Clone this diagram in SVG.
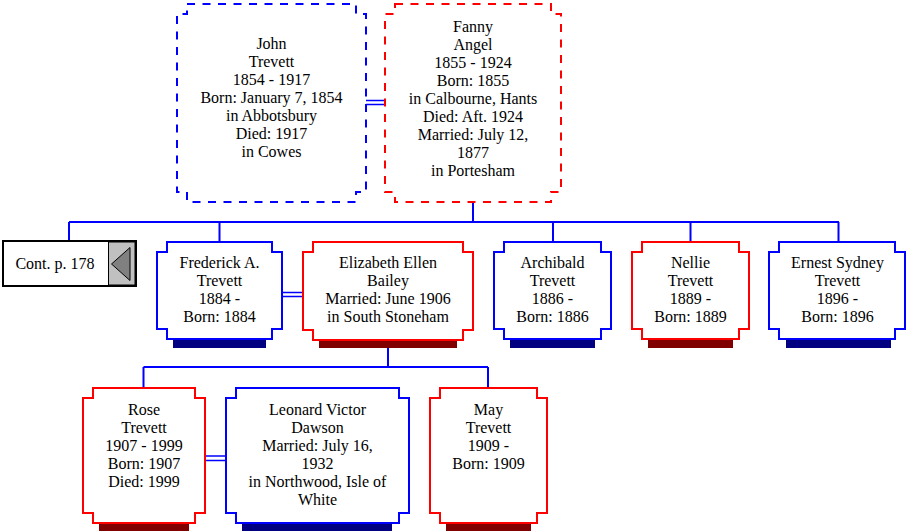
<svg xmlns="http://www.w3.org/2000/svg" width="906" height="532" viewBox="0 0 906 532">
<style>
text{font-family:"Liberation Serif","Times New Roman",serif;font-size:16px;fill:#000;text-anchor:middle}
.m{fill:#fff;stroke-width:2}
.b{stroke:#0000ff}
.r{stroke:#ff0000}
.d{stroke-dasharray:8 7.5}
.sb{fill:#000080}
.sr{fill:#800000}
.c{stroke:#0000ff;stroke-width:2;fill:none}
.c2{stroke:#0000ff;stroke-width:1.5;fill:none}
</style>
<rect width="906" height="532" fill="#fff"/>
<g id="connectors">
<path class="c2" d="M366 100.5H385M366 104.5H385"/>
<path class="c" d="M473 202V222M69 222H839M69 222V241M219.5 222V242M553 222V242M690.5 222V242M838.5 222V242"/>
<path class="c2" d="M282 292.5H303M282 296.5H303"/>
<path class="c" d="M388 340V367M143.5 367H488M143.5 367V388M488 367V388"/>
<path class="c2" d="M205 456H226M205 460.5H226"/>
</g>
<g id="john">
<path class="m b d" d="M187 4H356V14H366V192H356V202H187V192H177V14H187Z"/>
<text x="271.5" y="49">John</text><text x="271.5" y="67">Trevett</text><text x="271.5" y="85">1854 - 1917</text><text x="271.5" y="103">Born: January 7, 1854</text><text x="271.5" y="121">in Abbotsbury</text><text x="271.5" y="139">Died: 1917</text><text x="271.5" y="157">in Cowes</text>
</g>
<g id="fanny">
<path class="m r d" d="M395 4H551V14H561V192H551V202H395V192H385V14H395Z"/>
<text x="473" y="32">Fanny</text><text x="473" y="50">Angel</text><text x="473" y="68">1855 - 1924</text><text x="473" y="86">Born: 1855</text><text x="473" y="104">in Calbourne, Hants</text><text x="473" y="122">Died: Aft. 1924</text><text x="473" y="140">Married: July 12,</text><text x="473" y="158">1877</text><text x="473" y="176">in Portesham</text>
</g>
<g id="cont">
<rect x="3" y="241" width="133" height="45" fill="#fff" stroke="#000" stroke-width="2"/>
<rect x="108.5" y="242" width="26.5" height="43" fill="#c0c0c0" stroke="#000" stroke-width="1"/>
<polygon points="111.5,264 130,247.5 130,280.5" fill="#808080" stroke="#000" stroke-width="1"/>
<text x="55" y="269">Cont. p. 178</text>
</g>
<g id="frederick">
<rect class="sb" x="173" y="340" width="93" height="8"/>
<path class="m b" d="M167 242H272V252H282V329H272V339H167V329H157V252H167Z"/>
<text x="219.5" y="268">Frederick A.</text><text x="219.5" y="286">Trevett</text><text x="219.5" y="304">1884 -</text><text x="219.5" y="322">Born: 1884</text>
</g>
<g id="elizabeth">
<rect class="sr" x="319" y="340" width="138" height="8"/>
<path class="m r" d="M313 242H463V252H473V330H463V340H313V330H303V252H313Z"/>
<text x="388" y="268">Elizabeth Ellen</text><text x="388" y="286">Bailey</text><text x="388" y="304">Married: June 1906</text><text x="388" y="322">in South Stoneham</text>
</g>
<g id="archibald">
<rect class="sb" x="510" y="340" width="85" height="8"/>
<path class="m b" d="M504 242H601V252H611V329H601V339H504V329H494V252H504Z"/>
<text x="552.5" y="268">Archibald</text><text x="552.5" y="286">Trevett</text><text x="552.5" y="304">1886 -</text><text x="552.5" y="322">Born: 1886</text>
</g>
<g id="nellie">
<rect class="sr" x="648" y="340" width="85" height="8"/>
<path class="m r" d="M642 242H739V252H749V329H739V339H642V329H632V252H642Z"/>
<text x="690.5" y="268">Nellie</text><text x="690.5" y="286">Trevett</text><text x="690.5" y="304">1889 -</text><text x="690.5" y="322">Born: 1889</text>
</g>
<g id="ernest">
<rect class="sb" x="786" y="340" width="105" height="8"/>
<path class="m b" d="M779 242H895V252H905V329H895V339H779V329H769V252H779Z"/>
<text x="837.5" y="268">Ernest Sydney</text><text x="837.5" y="286">Trevett</text><text x="837.5" y="304">1896 -</text><text x="837.5" y="322">Born: 1896</text>
</g>
<g id="rose">
<rect class="sr" x="99" y="523" width="90" height="8"/>
<path class="m r" d="M93 388H195V398H205V513H195V523H93V513H83V398H93Z"/>
<text x="144" y="415">Rose</text><text x="144" y="433">Trevett</text><text x="144" y="451">1907 - 1999</text><text x="144" y="469">Born: 1907</text><text x="144" y="487">Died: 1999</text>
</g>
<g id="leonard">
<rect class="sb" x="242" y="523" width="150" height="8"/>
<path class="m b" d="M236 388H399V398H409V513H399V523H236V513H226V398H236Z"/>
<text x="317.5" y="415">Leonard Victor</text><text x="317.5" y="433">Dawson</text><text x="317.5" y="451">Married: July 16,</text><text x="317.5" y="469">1932</text><text x="317.5" y="487">in Northwood, Isle of</text><text x="317.5" y="505">White</text>
</g>
<g id="may">
<rect class="sr" x="446" y="523" width="85" height="8"/>
<path class="m r" d="M440 388H537V398H547V513H537V523H440V513H430V398H440Z"/>
<text x="488.5" y="415">May</text><text x="488.5" y="433">Trevett</text><text x="488.5" y="451">1909 -</text><text x="488.5" y="469">Born: 1909</text>
</g>
</svg>
